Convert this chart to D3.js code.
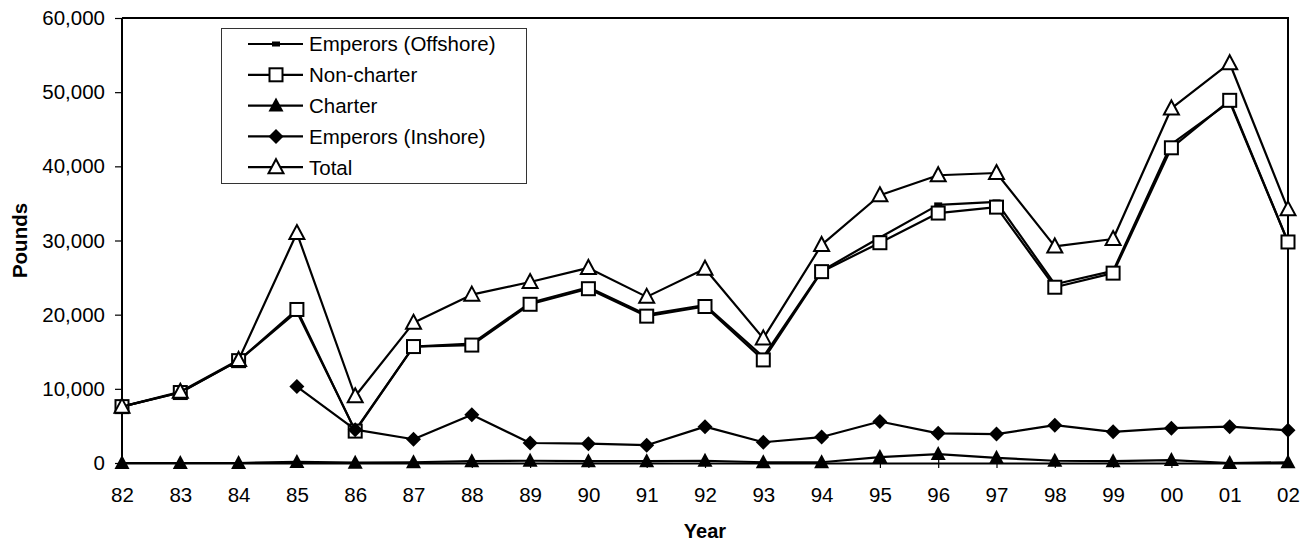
<!DOCTYPE html>
<html>
<head>
<meta charset="utf-8">
<script src="https://cdn.jsdelivr.net/npm/d3@7"></script>
<style>
  html, body { margin: 0; padding: 0; background: #fff; }
  svg { display: block; font-family: "Liberation Sans", Arial, sans-serif; }
</style>
</head>
<body>
<svg id="chart" width="1315" height="545"></svg>
<script>
// Annual landings (pounds) by year
const years = ["82","83","84","85","86","87","88","89","90","91","92","93","94","95","96","97","98","99","00","01","02"];
const offshore   = [7600, 9500, 13800, 20400, 4400, 15700, 16100, 21600, 23700, 20000, 21300, 14300, 25900, 30400, 34800, 35200, 24100, 25900, 43000, 48700, 29800];
const nonCharter = [7600, 9500, 13800, 20700, 4300, 15700, 15900, 21400, 23500, 19800, 21100, 13900, 25800, 29700, 33700, 34500, 23700, 25600, 42500, 48900, 29800];
const charter    = [0, 0, 0, 150, 50, 100, 250, 300, 250, 250, 300, 100, 100, 800, 1200, 700, 300, 250, 400, 0, 100];
const inshore    = [null, null, null, 10300, 4500, 3200, 6500, 2700, 2600, 2400, 4900, 2800, 3500, 5600, 4000, 3900, 5100, 4200, 4700, 4900, 4400];
const total      = [7600, 9600, 13900, 31000, 9000, 18900, 22700, 24400, 26300, 22400, 26200, 16800, 29400, 36100, 38800, 39100, 29200, 30200, 47800, 53900, 34200];
const yTicks = [0, 10000, 20000, 30000, 40000, 50000, 60000];

const seriesNames = ["Emperors (Offshore)", "Non-charter", "Charter", "Emperors (Inshore)", "Total"];
const seriesValues = [offshore, nonCharter, charter, inshore, total];
const markerKinds = ["dash", "square", "triFilled", "diamond", "triOpen"];

const svg = d3.select("#chart");
const plotL = 122, plotR = 1288, plotT = 18, plotB = 463;

const x = d3.scalePoint().domain(years).range([plotL, plotR]);
const y = d3.scaleLinear().domain([0, 60000]).range([plotB, plotT]);

// Plot frame (top and right edges)
svg.append("path")
  .attr("d", `M${plotL},${plotT}H${plotR}V${plotB}`)
  .attr("fill", "none").attr("stroke", "#000").attr("stroke-width", 2);

// Y axis
const yAxis = svg.append("g").attr("transform", `translate(${plotL},0)`)
  .call(d3.axisLeft(y).tickValues(yTicks).tickSize(7).tickPadding(10).tickFormat(d3.format(",")));
yAxis.select(".domain").attr("stroke-width", 2).attr("d", `M0,${plotT}V${plotB}`);
yAxis.selectAll(".tick line").attr("stroke-width", 1.2);
yAxis.selectAll("text").attr("font-size", 20.5).attr("fill", "#000")
  .attr("font-family", "Liberation Sans, Arial, sans-serif");

// X axis (ticks cross the axis line)
const xAxis = svg.append("g").attr("transform", `translate(0,${plotB})`)
  .call(d3.axisBottom(x).tickSizeInner(5).tickSizeOuter(0).tickPadding(19));
xAxis.select(".domain").attr("stroke-width", 2);
xAxis.selectAll(".tick line").attr("y1", -5).attr("stroke-width", 1.2);
xAxis.selectAll("text").attr("font-size", 20.5).attr("fill", "#000")
  .attr("font-family", "Liberation Sans, Arial, sans-serif");

// Axis titles
svg.append("text").attr("x", (plotL + plotR) / 2).attr("y", 538)
  .attr("text-anchor", "middle").attr("font-weight", "bold").attr("font-size", 20)
  .text("Year");
svg.append("text").attr("transform", `translate(27,${(plotT + plotB) / 2}) rotate(-90)`)
  .attr("text-anchor", "middle").attr("font-weight", "bold").attr("font-size", 20.5)
  .text("Pounds");

// Marker drawing
function drawMarker(g, kind, cx, cy) {
  if (kind === "dash") {
    g.append("rect").attr("x", cx - 4).attr("y", cy - 2.5).attr("width", 8).attr("height", 5).attr("fill", "#000");
  } else if (kind === "square") {
    g.append("rect").attr("x", cx - 6.5).attr("y", cy - 6.5).attr("width", 13).attr("height", 13)
      .attr("fill", "#fff").attr("stroke", "#000").attr("stroke-width", 2);
  } else if (kind === "triFilled") {
    g.append("path").attr("d", `M${cx},${cy - 8}L${cx + 7.5},${cy + 6}L${cx - 7.5},${cy + 6}Z`).attr("fill", "#000");
  } else if (kind === "diamond") {
    g.append("path").attr("d", `M${cx},${cy - 7.5}L${cx + 7.5},${cy}L${cx},${cy + 7.5}L${cx - 7.5},${cy}Z`).attr("fill", "#000");
  } else if (kind === "triOpen") {
    g.append("path").attr("d", `M${cx},${cy - 8}L${cx + 7.5},${cy + 6}L${cx - 7.5},${cy + 6}Z`)
      .attr("fill", "#fff").attr("stroke", "#000").attr("stroke-width", 2).attr("stroke-linejoin", "miter");
  }
}

const line = d3.line()
  .defined(d => d.v !== null)
  .x(d => x(d.year)).y(d => y(d.v));

seriesValues.forEach((vals, i) => {
  const pts = years.map((yr, j) => ({ year: yr, v: vals[j] }));
  const g = svg.append("g");
  g.append("path").datum(pts).attr("d", line)
    .attr("fill", "none").attr("stroke", "#000").attr("stroke-width", 2.2).attr("stroke-linejoin", "round");
  pts.filter(d => d.v !== null).forEach(d => drawMarker(g, markerKinds[i], x(d.year), y(d.v)));
});

// Legend
const lg = svg.append("g");
lg.append("rect").attr("x", 221.5).attr("y", 28.5).attr("width", 305).attr("height", 155)
  .attr("fill", "#fff").attr("stroke", "#333").attr("stroke-width", 1);
seriesNames.forEach((name, i) => {
  const cy = 44 + i * 30.8;
  lg.append("line").attr("x1", 248).attr("x2", 303).attr("y1", cy).attr("y2", cy)
    .attr("stroke", "#000").attr("stroke-width", 2.2);
  drawMarker(lg, markerKinds[i], 276, cy);
  lg.append("text").attr("x", 309).attr("y", cy).attr("dy", "0.36em")
    .attr("font-size", 20.5).text(name);
});
</script>
</body>
</html>
